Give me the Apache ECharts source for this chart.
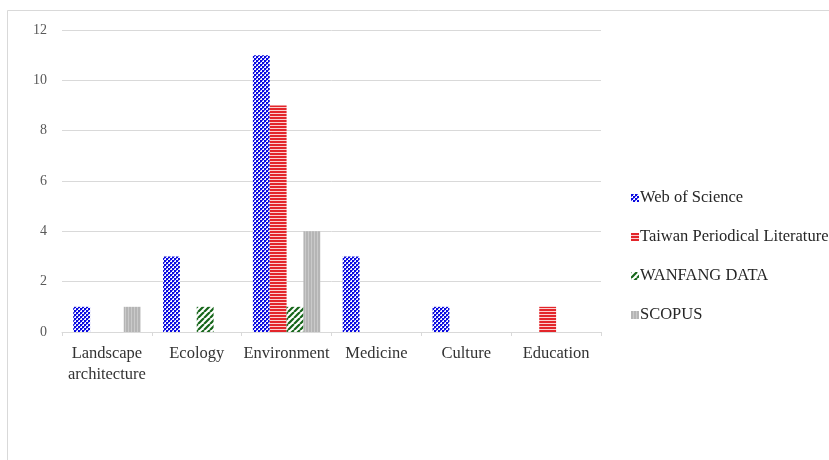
<!DOCTYPE html>
<html>
<head>
<meta charset="utf-8">
<script src="https://cdn.jsdelivr.net/npm/echarts@6/dist/echarts.min.js"></script>
<style>
  html, body { margin: 0; padding: 0; background: #fff; }
  #chart { width: 829px; height: 460px; }
</style>
</head>
<body>
<div id="chart"></div>
<script>
// Publication counts by research field and database
const categories = ['Landscape\narchitecture', 'Ecology', 'Environment', 'Medicine', 'Culture', 'Education'];
const seriesNames = ['Web of Science', 'Taiwan Periodical Literature', 'WANFANG DATA', 'SCOPUS'];
const webOfScience = [1, 3, 11, 3, 1, 0];
const taiwanPeriodical = [0, 0, 9, 0, 0, 1];
const wanfangData = [0, 1, 1, 0, 0, 0];
const scopus = [1, 0, 4, 0, 0, 0];
const yTicks = [0, 2, 4, 6, 8, 10, 12];

// Fill patterns drawn on small tiles
function tile(w, h, draw) {
  const c = document.createElement('canvas');
  c.width = w; c.height = h;
  const ctx = c.getContext('2d');
  draw(ctx);
  return { image: c, repeat: 'repeat' };
}
const bluePattern = tile(4, 4, ctx => {
  ctx.fillStyle = '#f4f4ff';
  ctx.fillRect(0, 0, 4, 4);
  ctx.fillStyle = '#0a0ae0';
  ctx.fillRect(0, 0, 2, 2);
  ctx.fillRect(2, 2, 2, 2);
  ctx.fillStyle = '#5a5aee';
  ctx.fillRect(2, 0, 1, 1);
  ctx.fillRect(0, 2, 1, 1);
});
const redPattern = tile(3, 3, ctx => {
  ctx.fillStyle = '#fbd0d0';
  ctx.fillRect(0, 0, 3, 3);
  ctx.fillStyle = '#e3262b';
  ctx.fillRect(0, 0, 3, 2);
});
const greenPattern = tile(6, 6, ctx => {
  ctx.fillStyle = '#ffffff';
  ctx.fillRect(0, 0, 6, 6);
  ctx.strokeStyle = '#16661a';
  ctx.lineWidth = 2.2;
  ctx.beginPath();
  for (let k = -6; k <= 12; k += 6) {
    ctx.moveTo(k, 6);
    ctx.lineTo(k + 6, 0);
  }
  ctx.stroke();
});
const grayPattern = tile(3, 3, ctx => {
  ctx.fillStyle = '#b5b5b5';
  ctx.fillRect(0, 0, 3, 3);
  ctx.fillStyle = '#cacaca';
  ctx.fillRect(2, 0, 1, 3);
});

const seriesData = [webOfScience, taiwanPeriodical, wanfangData, scopus];
const fills = [bluePattern, redPattern, greenPattern, grayPattern];
const serif = '"Liberation Serif", "DejaVu Serif", serif';

const chart = echarts.init(document.getElementById('chart'));
chart.setOption({
  animation: false,
  backgroundColor: '#ffffff',
  graphic: [{
    type: 'rect',
    shape: { x: 7.5, y: 10.5, width: 900, height: 500 },
    style: { fill: 'none', stroke: '#d9d9d9', lineWidth: 1 },
    silent: true
  }],
  grid: { left: 62, right: 228, top: 30, bottom: 128 },
  legend: {
    orient: 'vertical',
    left: 626,
    top: 184,
    itemWidth: 8,
    itemHeight: 8,
    itemGap: 21,
    icon: 'rect',
    data: seriesNames,
    textStyle: { fontFamily: serif, fontSize: 16.5, color: '#262626', lineHeight: 18, padding: [0, 0, 0, -4] }
  },
  xAxis: {
    type: 'category',
    data: categories,
    axisLine: { lineStyle: { color: '#d9d9d9', width: 1 } },
    axisTick: { show: true, length: 4, lineStyle: { color: '#d9d9d9' } },
    axisLabel: { fontFamily: serif, fontSize: 16.5, color: '#333333', margin: 11, lineHeight: 21, interval: 0 }
  },
  yAxis: {
    type: 'value',
    min: yTicks[0],
    max: yTicks[yTicks.length - 1],
    interval: 2,
    axisLine: { show: false },
    axisTick: { show: false },
    splitLine: { lineStyle: { color: '#d9d9d9', width: 1 } },
    axisLabel: { fontFamily: serif, fontSize: 14, color: '#595959', margin: 15 }
  },
  series: seriesNames.map((name, i) => ({
    name: name,
    type: 'bar',
    data: seriesData[i],
    barGap: '0%',
    barCategoryGap: '25%',
    itemStyle: { color: fills[i] }
  }))
});
</script>
</body>
</html>
